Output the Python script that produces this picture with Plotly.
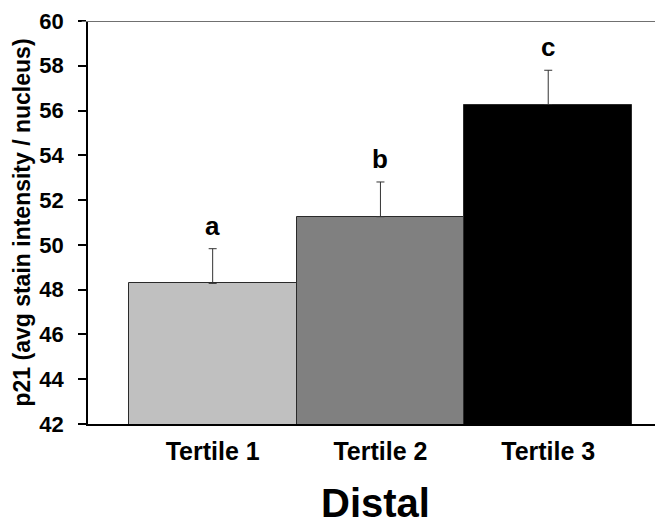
import plotly.graph_objects as go

categories = ["Tertile 1", "Tertile 2", "Tertile 3"]
values = [48.28, 51.26, 56.27]
errors = [1.55, 1.55, 1.53]
letters = ["a", "b", "c"]
colors = ["#c0c0c0", "#808080", "#000000"]
y_ticks = [42, 44, 46, 48, 50, 52, 54, 56, 58, 60]

FONT = "Liberation Sans, Arial, sans-serif"

fig = go.Figure()
fig.add_trace(go.Bar(
    x=list(range(len(categories))),
    y=values,
    width=1.0,
    marker=dict(color=colors, line=dict(color="#2a2a2a", width=1)),
    error_y=dict(type="data", symmetric=False, array=errors,
                 arrayminus=[0] * len(errors),
                 color="#333333", thickness=1, width=4),
    showlegend=False,
))

for i, (v, e, t) in enumerate(zip(values, errors, letters)):
    fig.add_annotation(x=i, y=v + e, text=t, showarrow=False,
                       xref="x", yref="y", yanchor="bottom", yshift=6,
                       font=dict(family=FONT, size=26, color="black", weight="bold"))

fig.add_annotation(x=0.5, y=-0.195, xref="paper", yref="paper",
                   text="Distal", showarrow=False, yanchor="middle",
                   font=dict(family=FONT, size=40, color="black", weight="bold"))

# top frame line (gray)
fig.add_shape(type="line", xref="paper", yref="y", x0=-0.011, x1=1, y0=60, y1=60,
              line=dict(color="#707070", width=2))

# page body adds an 8px offset; figure is sized to fit the 663x525 window
fig.update_layout(
    width=655, height=517,
    margin=dict(l=80, r=0, t=13, b=101),
    paper_bgcolor="white", plot_bgcolor="white",
    bargap=0,
    font=dict(family=FONT, color="black"),
    xaxis=dict(
        range=[-0.743, 2.684],
        tickmode="array", tickvals=list(range(len(categories))), ticktext=categories,
        tickfont=dict(family=FONT, size=25, color="black", weight="bold"),
        showgrid=False, zeroline=False,
        showline=True, linecolor="black", linewidth=1.5,
        ticks="", ticklabelstandoff=4,
    ),
    yaxis=dict(
        range=[42, 60],
        tickmode="array", tickvals=y_ticks,
        tickfont=dict(family=FONT, size=22, color="black", weight="bold"),
        showgrid=False, zeroline=False,
        showline=True, linecolor="black", linewidth=1.5,
        ticks="outside", ticklen=8, tickwidth=1.5, tickcolor="black",
        ticklabelstandoff=10,
        title=dict(text="p21 (avg stain intensity / nucleus)",
                   font=dict(family=FONT, size=23, color="black", weight="bold"),
                   standoff=2),
    ),
)

fig.write_html("out.html")
